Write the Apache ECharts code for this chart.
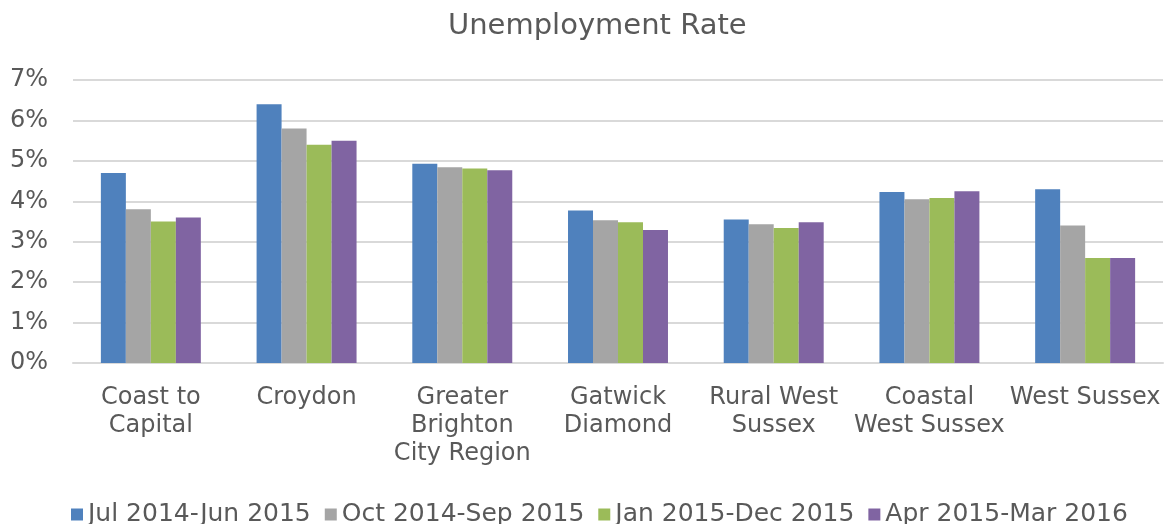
<!DOCTYPE html>
<html>
<head>
<meta charset="utf-8">
<script src="https://cdn.jsdelivr.net/npm/echarts@6/dist/echarts.min.js"></script>
<style>
  html, body { margin: 0; padding: 0; background: #fff; }
  #chart { width: 1167px; height: 524px; }
</style>
</head>
<body>
<div id="chart"></div>
<script>
const regions = [
  "Coast to\nCapital",
  "Croydon",
  "Greater\nBrighton\nCity Region",
  "Gatwick\nDiamond",
  "Rural West\nSussex",
  "Coastal\nWest Sussex",
  "West Sussex",
];
const periods = [
  "Jul 2014-Jun 2015",
  "Oct 2014-Sep 2015",
  "Jan 2015-Dec 2015",
  "Apr 2015-Mar 2016",
];
const julJun = [4.7, 6.4, 4.93, 3.77, 3.55, 4.23, 4.3];
const octSep = [3.8, 5.8, 4.84, 3.53, 3.43, 4.05, 3.4];
const janDec = [3.5, 5.4, 4.81, 3.48, 3.34, 4.08, 2.6];
const aprMar = [3.6, 5.5, 4.77, 3.29, 3.48, 4.25, 2.6];
const colors = ["#4f81bd", "#a5a5a5", "#9bbb59", "#8064a2"];

const font = "DejaVu Sans";
const textColor = "#595959";

const chart = echarts.init(document.getElementById("chart"));

const seriesData = [julJun, octSep, janDec, aprMar];

chart.setOption({
  animation: false,
  color: colors,
  title: {
    text: "Unemployment Rate",
    left: 443,
    top: 7,
    textStyle: { fontFamily: font, fontSize: 29, fontWeight: "normal", color: textColor },
  },
  legend: {
    data: periods,
    left: 66,
    top: 497,
    itemWidth: 12,
    itemHeight: 12,
    itemGap: 14,
    icon: "rect",
    textStyle: { fontFamily: font, fontSize: 25, color: textColor, padding: [0, 0, 0, 0] },
  },
  grid: { left: 73, right: 4, top: 80, bottom: 161 },
  xAxis: {
    type: "category",
    data: regions,
    axisLine: { lineStyle: { color: "#d9d9d9", width: 2 } },
    axisTick: { show: false },
    axisLabel: {
      interval: 0,
      hideOverlap: false,
      fontFamily: font,
      fontSize: 24,
      lineHeight: 28,
      color: textColor,
      margin: 21,
    },
  },
  yAxis: {
    type: "value",
    min: 0,
    max: 7,
    interval: 1,
    axisLine: { show: false },
    axisTick: { show: false },
    splitLine: { lineStyle: { color: "#d9d9d9", width: 2 } },
    axisLabel: {
      formatter: "{value}%",
      fontFamily: font,
      fontSize: 24,
      color: textColor,
      margin: 25,
    },
  },
  series: seriesData.map((d, i) => ({
    name: periods[i],
    type: "bar",
    data: d,
    barGap: "0%",
    barCategoryGap: "35.8%",
    itemStyle: { color: colors[i] },
  })),
});
</script>
</body>
</html>
